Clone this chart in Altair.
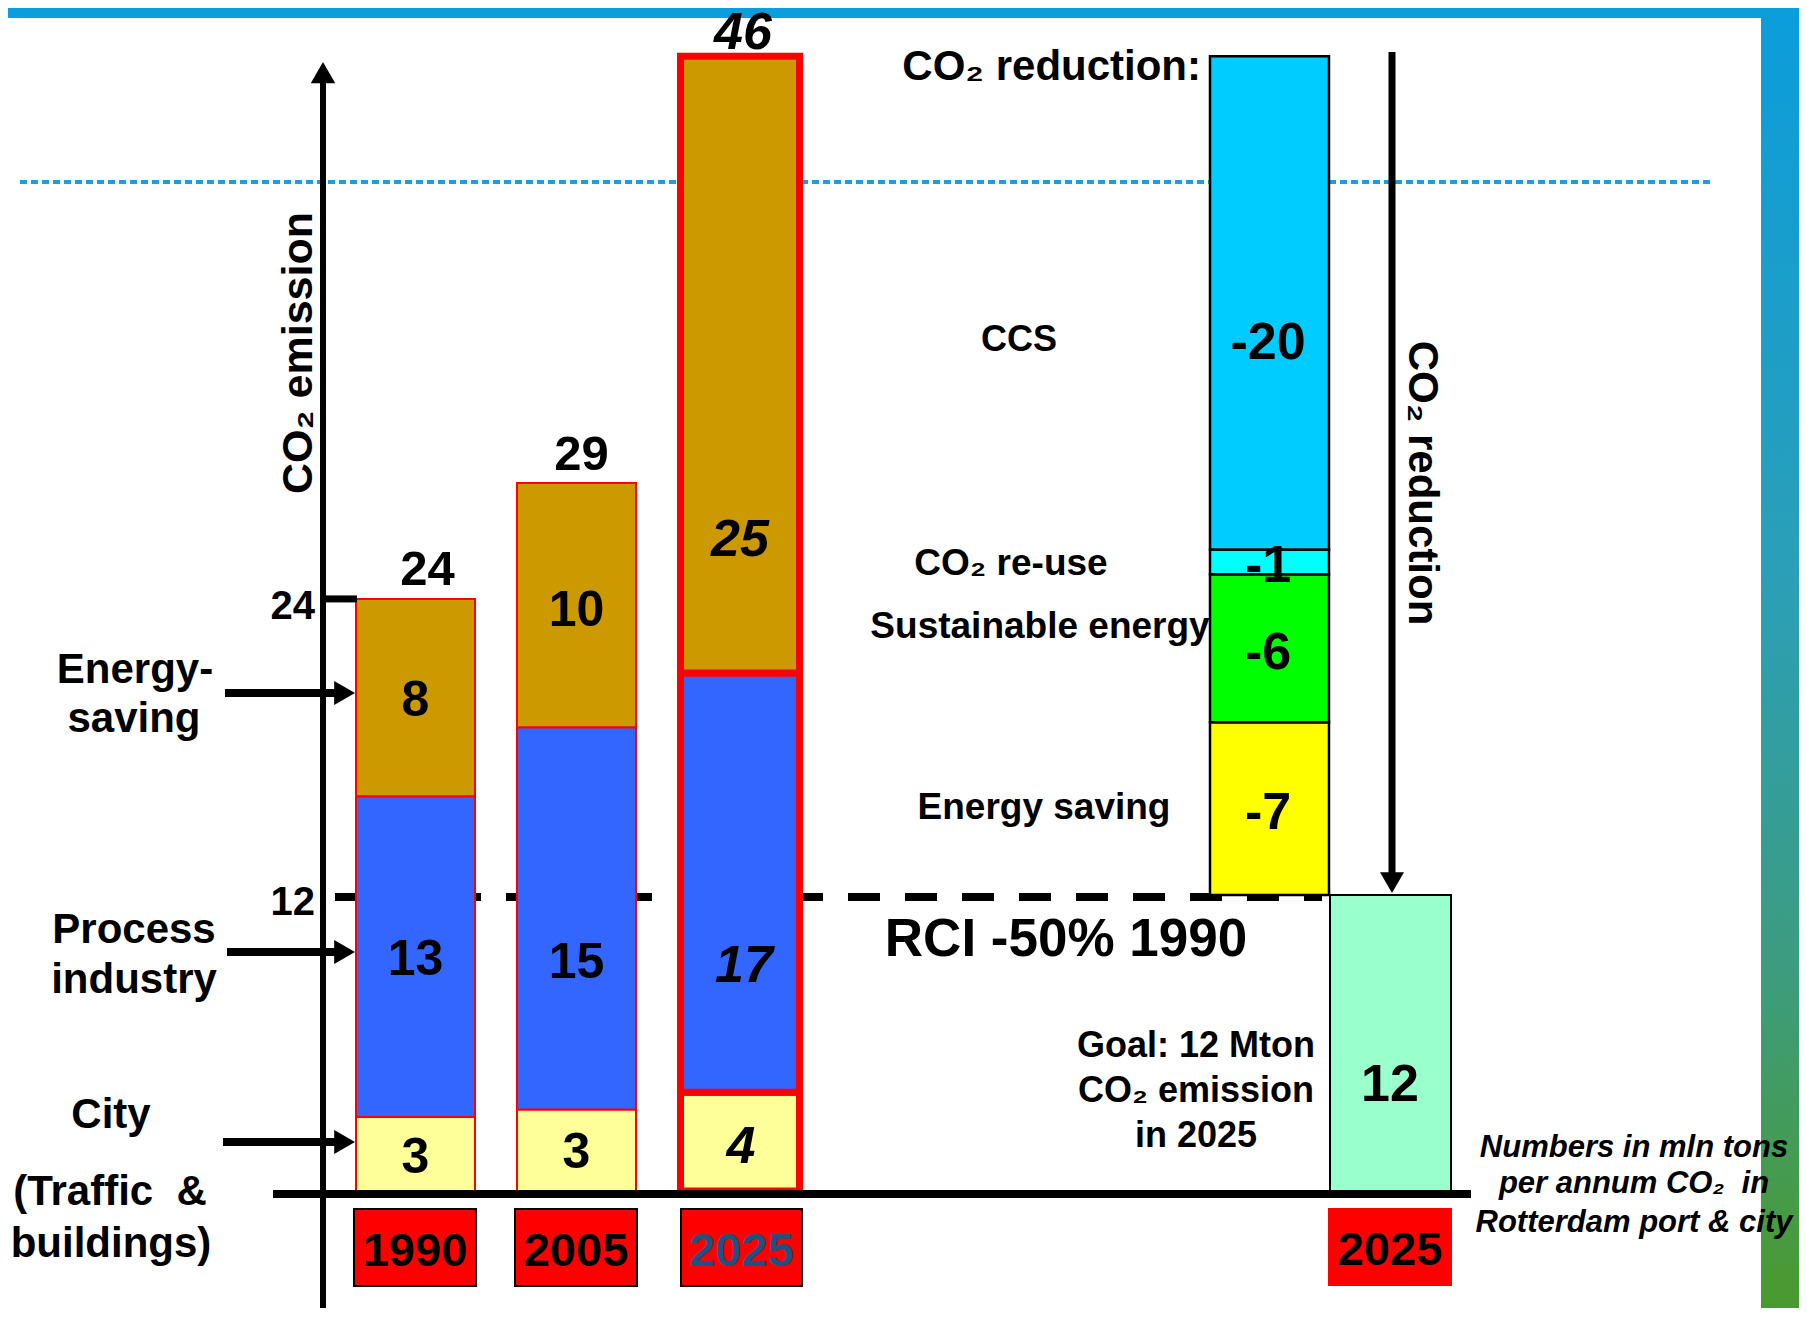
import altair as alt
import pandas as pd

# ---------------- data (Mton CO2 per year) ----------------
years = ["1990", "2005", "2025"]
city = [3.0, 3.3, 4.0]
industry = [13.0, 15.5, 17.0]
energy = [8.0, 9.9, 25.0]
city_labels = ["3", "3", "4"]
industry_labels = ["13", "15", "17"]
energy_labels = ["8", "10", "25"]
total_labels = ["24", "29", "46"]

reduction_names = ["Energy saving", "Sustainable energy", "CO₂ re-use", "CCS"]
reduction_values = [7, 6, 1, 20]
reduction_labels = ["-7", "-6", "-1", "-20"]
goal_value = 12
goal_label = "12"
goal_year = "2025"
tick_values = [12, 24]
tick_labels = ["12", "24"]

# ---------------- layout / style ----------------
FONT = "Liberation Sans"
W, H = 1791, 1300
K = 24.67                      # px per Mton
BASE = 1191                    # page y of value 0
YMIN = -(H - (BASE - 8)) / K
YMAX = YMIN + H / K
yscale = alt.Scale(domain=[YMIN, YMAX], nice=False, zero=False)


def px(x):
    return x - 8


def py(y):
    return y - 8


ONE = pd.DataFrame({"d": [0]})

seg_fill = ["#ffff99", "#3366ff", "#cc9900"]
red_fill = ["#ffff00", "#00ff00", "#00ffff", "#00ccff"]
goal_fill = "#99ffcc"
bar_x = [(356, 475), (517, 636), (680.5, 799.5)]
bar_sw = [2, 2, 7]
label_cx = [415.5, 576.5, 740]
red_x = (1210, 1329)
goal_x = (1330, 1451)
year_box_x = [(354, 476), (515, 637), (681, 802)]
goal_box_x = (1328, 1452)
year_text_color = ["black", "black", "#24507f"]

# label anchor heights (data units) inside / above bars
city_label_y = [1.34, 1.54, 1.78]
industry_label_y = [9.36, 9.24, 9.12]
energy_label_y = [19.86, 23.51, 26.39]
total_label_y = [25.17, 29.83, 46.95]
total_dx = [12, 5, 3]
red_label_y = [15.32, 21.81, 25.33, 34.37]
goal_label_y = 4.30
red_name_pos = [(1044, 819, 37), (1040, 638, 37), (1011, 575, 37), (1019, 351, 36)]

layers = []


def rule(x1, x2, y1, y2, width, color="black", dash=None):
    kw = dict(color=color, strokeWidth=width, strokeCap="butt")
    if dash:
        kw["strokeDash"] = dash
    enc = dict(x=alt.value(px(x1)), y=alt.value(py(y1)))
    if x2 != x1:
        enc["x2"] = alt.value(px(x2))
    if y2 != y1:
        enc["y2"] = alt.value(py(y2))
    return alt.Chart(ONE).mark_rule(**kw).encode(**enc)


def head(shape, x, y, size):
    return alt.Chart(ONE).mark_point(shape=shape, filled=True, size=size, color="black",
                                     opacity=1, strokeWidth=0).encode(
        x=alt.value(px(x)), y=alt.value(py(y)))


def txt(s, x, y, size, align="center", baseline="alphabetic", angle=0, italic=False, color="black"):
    kw = dict(font=FONT, fontWeight="bold", fontSize=size, align=align, baseline=baseline, color=color)
    if angle:
        kw["angle"] = angle
    if italic:
        kw["fontStyle"] = "italic"
    return alt.Chart(pd.DataFrame({"t": [s]})).mark_text(**kw).encode(
        x=alt.value(px(x)), y=alt.value(py(y)), text="t:N")


# ---------------- frame ----------------
layers.append(alt.Chart(ONE).mark_rect(color="#0b9ddc").encode(
    x=alt.value(0), x2=alt.value(W), y=alt.value(0), y2=alt.value(py(18))))
layers.append(alt.Chart(ONE).mark_rect(color=alt.LinearGradient(
    gradient="linear", x1=0, x2=0, y1=0, y2=1,
    stops=[alt.GradientStop(color="#0b9ddc", offset=0),
           alt.GradientStop(color="#2c9fb6", offset=0.45),
           alt.GradientStop(color="#3d9c7c", offset=0.75),
           alt.GradientStop(color="#4a9a2e", offset=1)])).encode(
    x=alt.value(px(1761)), x2=alt.value(W), y=alt.value(0), y2=alt.value(H)))

# reference lines
layers.append(rule(20, 1711, 182, 182, 4, color="#1a9ee0", dash=[7, 4]))
layers.append(rule(335, 1322, 897, 897, 8, dash=[32, 25]))

# ---------------- emission bars ----------------
rows = []
for i, yr in enumerate(years):
    lo = 0.0
    for j, vals in enumerate([city, industry, energy]):
        hi = lo + vals[i]
        rows.append({"year": yr, "lo": lo, "hi": hi, "x0": px(bar_x[i][0]), "x1": px(bar_x[i][1]),
                     "fill": seg_fill[j], "sw": bar_sw[i]})
        lo = hi
bars_df = pd.DataFrame(rows)
layers.append(alt.Chart(bars_df).mark_rect(stroke="#ff0000").encode(
    x=alt.X("x0:Q", scale=None, axis=None), x2="x1:Q",
    y=alt.Y("lo:Q", scale=yscale, axis=None), y2="hi:Q",
    color=alt.Color("fill:N", scale=None),
    strokeWidth=alt.StrokeWidth("sw:Q", scale=None)))

# reduction stack
rrows = []
lo = goal_value
for name, v, c in zip(reduction_names, reduction_values, red_fill):
    rrows.append({"name": name, "lo": lo, "hi": lo + v, "x0": px(red_x[0]), "x1": px(red_x[1]), "fill": c})
    lo += v
layers.append(alt.Chart(pd.DataFrame(rrows)).mark_rect(stroke="black", strokeWidth=2.5).encode(
    x=alt.X("x0:Q", scale=None, axis=None), x2="x1:Q",
    y=alt.Y("lo:Q", scale=yscale, axis=None), y2="hi:Q",
    color=alt.Color("fill:N", scale=None)))

# goal bar
layers.append(alt.Chart(pd.DataFrame({"lo": [0], "hi": [goal_value], "x0": [px(goal_x[0])], "x1": [px(goal_x[1])]}))
              .mark_rect(stroke="black", strokeWidth=2, color=goal_fill).encode(
    x=alt.X("x0:Q", scale=None, axis=None), x2="x1:Q",
    y=alt.Y("lo:Q", scale=yscale, axis=None), y2="hi:Q"))

# ---------------- axes & arrows ----------------
layers.append(rule(323, 323, 80, 1320, 6))
layers.append(head("triangle-up", 323, 72.6, 600))
layers.append(rule(273, 1471, 1194, 1194, 8))
tick_df = pd.DataFrame({"v": tick_values, "t": tick_labels})
layers.append(alt.Chart(tick_df[tick_df.v == 24]).mark_rule(color="black", strokeWidth=7, strokeCap="butt").encode(
    x=alt.value(px(326)), x2=alt.value(px(357)), y=alt.Y("v:Q", scale=yscale, axis=None)))
layers.append(alt.Chart(tick_df).mark_text(font=FONT, fontWeight="bold", fontSize=40, align="right",
                                           baseline="middle", dy=8).encode(
    x=alt.value(px(315)), y=alt.Y("v:Q", scale=yscale, axis=None), text="t:N"))

for ay, x0 in [(693, 225), (952, 227), (1142, 223)]:
    layers.append(rule(x0, 346, ay, ay, 8))
    layers.append(head("triangle-right", 344.6, ay, 576))

layers.append(rule(1392, 1392, 52, 884, 7))
layers.append(head("triangle-down", 1392, 882.6, 576))

# ---------------- bar labels ----------------
lab_rows = []
for i in range(2):
    lab_rows += [
        {"t": city_labels[i], "ly": city_label_y[i], "xp": px(label_cx[i]), "fs": 50},
        {"t": industry_labels[i], "ly": industry_label_y[i], "xp": px(label_cx[i]), "fs": 50},
        {"t": energy_labels[i], "ly": energy_label_y[i], "xp": px(label_cx[i]), "fs": 50},
        {"t": total_labels[i], "ly": total_label_y[i], "xp": px(label_cx[i] + total_dx[i]), "fs": 49},
    ]
layers.append(alt.Chart(pd.DataFrame(lab_rows)).mark_text(font=FONT, fontWeight="bold", baseline="middle").encode(
    x=alt.X("xp:Q", scale=None, axis=None), y=alt.Y("ly:Q", scale=yscale, axis=None),
    size=alt.Size("fs:Q", scale=None), text="t:N"))
lab25 = [
    {"t": city_labels[2], "ly": city_label_y[2], "xp": px(label_cx[2] + 1)},
    {"t": industry_labels[2], "ly": industry_label_y[2], "xp": px(label_cx[2] + 4)},
    {"t": energy_labels[2], "ly": energy_label_y[2], "xp": px(label_cx[2])},
    {"t": total_labels[2], "ly": total_label_y[2], "xp": px(label_cx[2] + total_dx[2])},
]
layers.append(alt.Chart(pd.DataFrame(lab25)).mark_text(font=FONT, fontWeight="bold", fontStyle="italic",
                                                       fontSize=52, baseline="middle").encode(
    x=alt.X("xp:Q", scale=None, axis=None), y=alt.Y("ly:Q", scale=yscale, axis=None), text="t:N"))

red_lab = pd.DataFrame({"t": reduction_labels + [goal_label], "ly": red_label_y + [goal_label_y],
                        "xp": [px(1268)] * 4 + [px(1390)]})
layers.append(alt.Chart(red_lab).mark_text(font=FONT, fontWeight="bold", fontSize=52, baseline="middle").encode(
    x=alt.X("xp:Q", scale=None, axis=None), y=alt.Y("ly:Q", scale=yscale, axis=None), text="t:N"))

# ---------------- year boxes ----------------
for i, yr in enumerate(years):
    x0, x1 = year_box_x[i]
    layers.append(alt.Chart(ONE).mark_rect(color="#ff0000", stroke="black", strokeWidth=2).encode(
        x=alt.value(px(x0)), x2=alt.value(px(x1)), y=alt.value(py(1209)), y2=alt.value(py(1286))))
    layers.append(txt(yr, (x0 + x1) / 2, 1252, 47, baseline="middle", color=year_text_color[i]))
layers.append(alt.Chart(ONE).mark_rect(color="#ff0000").encode(
    x=alt.value(px(goal_box_x[0])), x2=alt.value(px(goal_box_x[1])), y=alt.value(py(1208)), y2=alt.value(py(1286))))
layers.append(txt(goal_year, sum(goal_box_x) / 2, 1251, 47, baseline="middle"))

# ---------------- annotations ----------------
layers.append(txt("CO₂ emission", 298.5, 353, 43, baseline="middle", angle=270))
for s, x, y in [("Energy-", 135, 683), ("saving", 134, 732), ("Process", 134, 943), ("industry", 134, 993),
                ("City", 111, 1128), ("(Traffic \u00a0&", 110, 1205), ("buildings)", 111, 1257)]:
    layers.append(txt(s, x, y, 42))

layers.append(txt("CO₂ reduction:", 1201, 80, 42, align="right"))
for name, (x, y, fs) in zip(reduction_names, red_name_pos):
    layers.append(txt(name, x, y, fs))
layers.append(txt("RCI -50% 1990", 1066, 956, 53))
for s, y in [("Goal: 12 Mton", 1057), ("CO₂ emission", 1102), ("in 2025", 1147)]:
    layers.append(txt(s, 1196, y, 36))
for s, y in [("Numbers in mln tons", 1157), ("per annum CO₂ \u00a0in", 1193), ("Rotterdam port & city", 1232)]:
    layers.append(txt(s, 1634, y, 31, italic=True))
layers.append(txt("CO₂ reduction", 1421.5, 483, 42, baseline="middle", angle=90))

chart = alt.layer(*layers).properties(
    width=W, height=H, autosize=alt.AutoSizeParams(type="none"), padding=0, background="white"
).configure_view(strokeWidth=0)

chart.save("out.html", embed_options={"renderer": "svg", "actions": False})
